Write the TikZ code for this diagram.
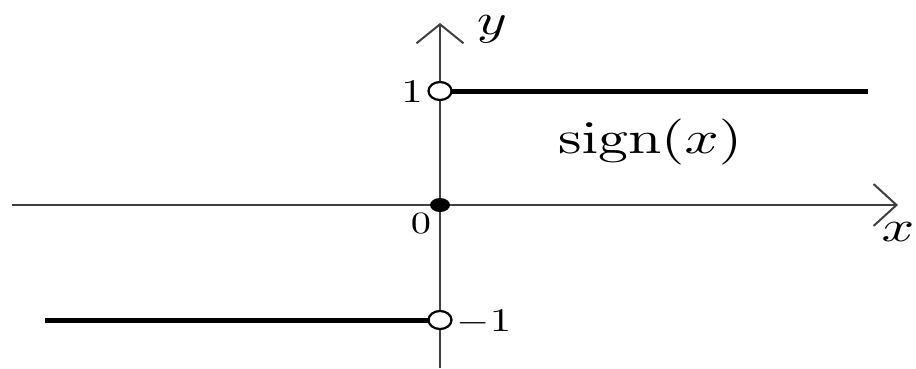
\documentclass[tikz,border=0pt]{standalone}
\usetikzlibrary{arrows.meta}
\newcommand{\hsz}[2]{\scalebox{\fpeval{1.3*#1}}[#1]{#2}}
\begin{document}
\begin{tikzpicture}[x=1pt,y=-1pt,
  axis/.style={line width=2pt,draw=black!75},
  graphline/.style={line width=5pt,draw=black},
  lbl/.style={inner sep=0pt},
  opendot/.style={line width=2.2pt,draw=black,fill=white},
  solidot/.style={fill=black}]
\useasboundingbox (0,0) rectangle (916,368);
\coordinate (xs) at (12,205);
\coordinate (xe) at (898,205);
\coordinate (ys) at (440,368);
\coordinate (ye) at (440,23);
\draw[axis,-{Straight Barb[length=23pt,width=42pt,line width=2pt]}] (xs) -- (xe);
\draw[axis,-{Straight Barb[length=19pt,width=47pt,line width=2pt]}] (ys) -- (ye);
\coordinate (p1) at (440,91);
\coordinate (pm1) at (440,320);
\coordinate (o) at (440,205);
\coordinate (r1) at (868,91);
\coordinate (l1) at (45,320);
\draw[graphline] (451,91) -- (r1);
\draw[graphline] (l1) -- (429,320);
\draw[opendot] (p1) ellipse (11.5pt and 9pt);
\draw[opendot] (pm1) ellipse (11.5pt and 9pt);
\fill[solidot] (o) ellipse (10pt and 7pt);
\node[lbl] (one) at (412,92) {\hsz{3.3}{1}};
\node[lbl] (zero) at (421,224) {\hsz{3.1}{0}};
\node[lbl] (mone) at (484,322) {\hsz{3.3}{$-1$}};
\node[lbl] (yl) at (492,29) {\hsz{4.4}{$y$}};
\node[lbl] (xl) at (898,232) {\hsz{4.4}{$x$}};
\node[lbl] (sg) at (650,142) {\hsz{4.6}{$\mathrm{sign}(x)$}};
\end{tikzpicture}
\end{document}
